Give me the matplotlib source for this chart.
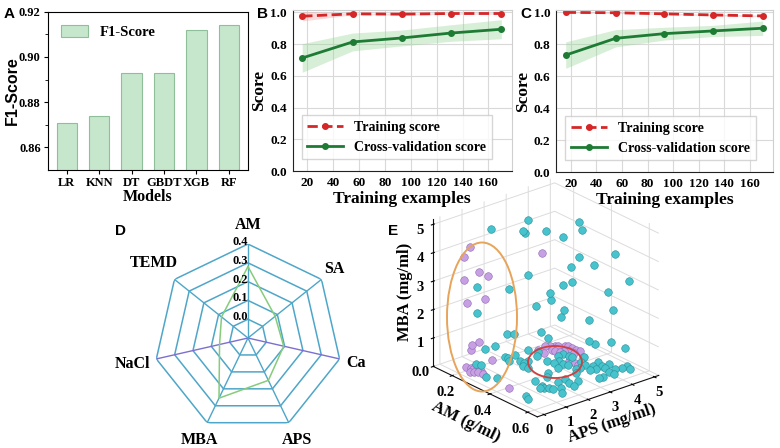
import numpy as np
import matplotlib
matplotlib.use('Agg')
import matplotlib.pyplot as plt
from matplotlib.patches import Ellipse

SERIF = 'Liberation Serif'
SANS = 'Liberation Sans'

# ---------- A: F1 score per model ----------
models = ['LR', 'KNN', 'DT', 'GBDT', 'XGB', 'RF']
f1 = [0.871, 0.874, 0.893, 0.893, 0.912, 0.914]

# ---------- B / C: learning curves ----------
train_sizes = [16, 55, 93, 131, 170]
b_train = [0.975, 0.990, 0.988, 0.992, 0.992]
b_train_sd = [0.030, 0.006, 0.006, 0.005, 0.005]
b_cv = [0.712, 0.813, 0.838, 0.869, 0.893]
b_cv_sd = [0.090, 0.056, 0.050, 0.052, 0.060]
c_train = [0.999, 0.997, 0.990, 0.983, 0.977]
c_train_sd = [0.003, 0.004, 0.005, 0.005, 0.005]
c_cv = [0.732, 0.837, 0.866, 0.883, 0.900]
c_cv_sd = [0.083, 0.054, 0.040, 0.035, 0.045]

# ---------- D: feature importance ----------
features = ['AM', 'SA', 'Ca', 'APS', 'MBA', 'NaCl', 'TEMD']
importance = [0.28, 0.085, 0.095, 0.15, 0.255, 0.055, 0.08]

# ---------- E: samples (AM g/ml, APS mg/ml, MBA mg/ml) ----------
cyan_am = [0.35,0.252,0.336,0.341,0.375,0.35,0.215,0.299,0.375,0.375,0.215,0.372,0.294,0.313,0.375,
           0.44,0.448,0.397,0.535,0.44,0.417,0.479,0.42,0.397,0.571,0.515,0.4,0.392,0.529,0.465,0.465,
           0.482,0.524,0.56,0.375,0.15,0.151,0.24,0.254,0.25,0.245,0.303,0.324,0.319,0.341,0.36,0.28,
           0.305,0.439,0.464,0.464,0.506,0.515,0.524,0.536,0.552,0.514,0.511,0.547,0.577,0.553,0.501,
           0.562,0.598,0.538,0.563,0.468,0.491,0.476,0.513,0.511,0.519,0.533,0.513,0.561,0.569,0.567,
           0.594,0.582,0.58,0.567,0.586,0.328,0.359,0.224,0.242,0.352,0.35,0.376,0.39,0.388,0.411,0.43,
           0.426,0.476,0.418,0.438,0.473,0.383,0.362,0.277]
cyan_aps = [1.85,1,1.73,1.77,2.45,1.85,0.69,1.41,2.64,2.69,0.69,2.04,1.36,1.53,2.21,3.39,3.46,3.03,
            4.21,3.39,3.2,3.73,3.22,3.03,4.52,4.04,3.05,2.98,4.16,3.61,3.61,3.75,4.11,4.43,2.55,1.63,
            2.06,1.73,1.75,2.12,2.75,1.91,1.88,2.11,1.68,1.76,2.88,2.62,2,1.74,1.2,1.13,0.96,1.07,1.21,
            1.27,1.78,2.15,2.03,1.97,2.37,2.72,1.52,1.26,0.13,0.02,3.44,3.57,3.95,3.82,3.26,3.48,3.79,
            4.11,3.99,4.21,4.47,4.38,3.27,3.1,3.64,3.72,0.15,0.37,0.57,0.65,3.18,3.43,3.46,3.48,2.92,
            2.91,2.99,2.54,3.12,3.82,3.5,2.95,2.72,2.61,1.61]
cyan_mba = [5.4,4.98,4.98,4.91,4.91,3.44,2.92,2.92,2.69,2.44,1.99,2.39,1.33,1.34,1.42,5.21,4.94,4.63,
            4.15,3.97,3.61,3.73,3.06,2.94,3.25,2.79,2.08,1.8,2.18,1.78,1.03,0.94,1.07,0.89,1.13,
            0.25,0.25,0.25,0.25,0.25,0.25,0.25,0.25,0.25,0.25,0.25,0.25,0.25,0.25,0.25,0.25,0.25,
            0.25,0.25,0.25,0.25,0.25,0.25,0.25,0.25,0.25,0.25,0.25,0.25,0.25,0.25,0.25,0.25,0.25,
            0.25,0.25,0.25,0.25,0.25,0.25,0.25,0.25,0.25,0.25,0.25,0.25,0.25,0.25,0.25,0.25,0.25,
            0.25,0.25,0.25,0.25,0.25,0.25,0.25,0.25,0.25,0.25,0.25,0.25,0.25,0.25,0.25]
purple_am = [0.16,0.15,0.26,0.17,0.19,0.15,0.15,0.18,0.17,0.16,0.16,0.23,0.22,0.24,0.25,0.27,0.28,
             0.26,0.27,0.28,0.3,0.24,0.45,0.26,0.27,0.28,0.29,0.3,0.31,0.33,0.35,0.37,0.37,0.34,0.33,
             0.33,0.31,0.3,0.3,0.27,0.45,0.43,0.41,0.41]
purple_aps = [0.85,0.65,3.25,1.15,1.42,0.68,0.78,1.35,1.15,0.95,0.88,1.25,0.17,0.2,0.22,0.27,0.3,
              -0.01,0.11,0.19,0.24,0.31,0.15,3.37,3.54,3.68,3.73,3.93,3.98,4.03,4.0,4.03,3.77,3.77,
              3.64,3.47,3.41,3.36,3.02,3.0,3.24,3.27,3.82,3.19]
purple_mba = [4.09,3.76,3.56,3.16,3.03,2.93,2.09,2.21,0.71,0.63,0.46,0.25,0.25,0.25,0.25,0.25,0.25,
              0.25,0.25,0.25,0.25,0.25,0.25,0.25,0.25,0.25,0.25,0.25,0.25,0.25,0.25,0.25,0.25,0.25,
              0.25,0.25,0.25,0.25,0.25,0.25,0.25,0.25,0.25,0.25]

fig = plt.figure(figsize=(7.8, 4.48), dpi=100)

def style_ticks(ax, size):
    for lab in ax.get_xticklabels() + ax.get_yticklabels():
        lab.set_fontfamily(SERIF)
        lab.set_fontweight('bold')
        lab.set_fontsize(size)

# ---- A
ax = fig.add_axes([0.061, 0.6205, 0.257, 0.3535])
ax.bar(models, f1, width=0.63, color='#c6e7cc', edgecolor='#8fbf98', linewidth=0.8, label='F1-Score')
ax.set_ylim(0.85, 0.92)
ax.set_yticks([0.86, 0.88, 0.90, 0.92])
ax.set_yticks([0.87, 0.89, 0.91], minor=True)
style_ticks(ax, 9)
ax.set_xlabel('Models', fontfamily=SERIF, fontweight='bold', fontsize=11.5, labelpad=0)
ax.set_ylabel('F1-Score', fontfamily=SANS, fontweight='bold', fontsize=11.5)
ax.yaxis.set_label_coords(-0.14, 0.5)
ax.tick_params(direction='out', length=3, pad=2)
ax.legend(loc='upper left', frameon=False, prop={'family': SERIF, 'weight': 'bold', 'size': 10.5},
          handlelength=1.9, handleheight=0.9, borderaxespad=0.5)
fig.text(0.005, 0.968, 'A', fontfamily=SANS, fontweight='bold', fontsize=11, va='center')

# ---- B, C
def learning(rect, tr, trsd, cv, cvsd, label, lx):
    ax = fig.add_axes(rect)
    ax.set_zorder(2)
    x = np.array(train_sizes)
    tr = np.array(tr); trsd = np.array(trsd); cv = np.array(cv); cvsd = np.array(cvsd)
    ax.fill_between(x, tr - trsd, tr + trsd, color='#f19a9a', alpha=0.35, lw=0)
    ax.fill_between(x, cv - cvsd, cv + cvsd, color='#8fd18f', alpha=0.35, lw=0)
    ax.plot(x, tr, '--o', color='#d62728', lw=2, ms=4, label='Training score')
    ax.plot(x, cv, '-o', color='#1e7b34', lw=2, ms=4, label='Cross-validation score')
    ax.set_xlim(8.5, 178)
    ax.set_ylim(0, 1.015)
    ax.set_xticks(range(20, 161, 20))
    ax.set_yticks(np.arange(0, 1.01, 0.2))
    ax.grid(color='#d9d9d9', lw=0.8)
    ax.set_axisbelow(True)
    for sp in ['top', 'right']:
        ax.spines[sp].set_color('#cfcfcf')
    for sp in ['left', 'bottom']:
        ax.spines[sp].set_color('#222222')
    ax.tick_params(length=0, pad=4)
    style_ticks(ax, 9.5)
    ax.set_xlabel('Training examples', fontfamily=SERIF, fontweight='bold', fontsize=12.5, labelpad=2)
    ax.set_ylabel('Score', fontfamily=SERIF, fontweight='bold', fontsize=12.5, labelpad=2)
    leg = ax.legend(loc='lower left', bbox_to_anchor=(0.01, 0.03), fancybox=False,
                    prop={'family': SERIF, 'weight': 'bold', 'size': 10}, handlelength=2.6,
                    borderpad=0.4, labelspacing=0.5)
    leg.get_frame().set_edgecolor('#cccccc')
    fig.text(lx, 0.968, label, fontfamily=SANS, fontweight='bold', fontsize=11, va='center')

learning([0.375, 0.618, 0.281, 0.36], b_train, b_train_sd, b_cv, b_cv_sd, 'B', 0.329)
learning([0.713, 0.616, 0.278, 0.362], c_train, c_train_sd, c_cv, c_cv_sd, 'C', 0.667)

# ---- D: radar
axd = fig.add_axes([0.1974, 0.0357, 0.241, 0.4196], projection='polar')
axd.set_theta_zero_location('N')
axd.set_theta_direction(-1)
axd.set_ylim(-0.1, 0.4)
axd.axis('off')
ang = np.arange(len(features)) * 2 * np.pi / len(features)
ring_col = '#4ea6c9'
for r in [0.0, 0.1, 0.2, 0.3, 0.4]:
    axd.plot(np.r_[ang, ang[0]], [r] * (len(ang) + 1), color=ring_col, lw=1.1)
for i, a in enumerate(ang):
    c = '#7b6fd0' if features[i] in ('Ca', 'NaCl') else ring_col
    axd.plot([a, a], [-0.1, 0.4], color=c, lw=1.0)
axd.plot(np.r_[ang, ang[0]], importance + importance[:1], color='#86cc7a', lw=1.1)
lab_r = [0.50, 0.49, 0.49, 0.50, 0.50, 0.53, 0.54]
for a, name, rr in zip(ang, features, lab_r):
    axd.text(a, rr, name, ha='center', va='center', fontfamily=SERIF, fontweight='bold', fontsize=11.5)
for r in [0.0, 0.1, 0.2, 0.3, 0.4]:
    axd.annotate(f'{r:.1f}', xy=(0, r), xytext=(0, 1.5), textcoords='offset points',
                 ha='right', va='center', fontfamily=SERIF, fontweight='bold', fontsize=9)
fig.text(0.148, 0.484, 'D', fontfamily=SANS, fontweight='bold', fontsize=11, va='center')

# ---- E: 3D scatter
axe = fig.add_axes([0.526, 0.07, 0.34, 0.52], projection='3d', proj_type='ortho')
axe.set_zorder(1)
axe.set_facecolor((1, 1, 1, 0))
axe.view_init(elev=24, azim=-40)
axe.set_box_aspect((1, 0.98, 1.0), zoom=1.16)
axe.scatter(cyan_am, cyan_aps, cyan_mba, s=30, color='#46c3cc', edgecolor='#2a8e98',
            linewidth=0.4, depthshade=False, alpha=1)
axe.scatter(purple_am, purple_aps, purple_mba, s=30, color='#c7a0e4', edgecolor='#9069b5',
            linewidth=0.4, depthshade=False, alpha=1)
axe.set_xlim(0.1, 0.65)
axe.set_ylim(-0.3, 5.2)
axe.set_zlim(0, 5.2)
axe.set_xticks([0.2, 0.4, 0.6])
axe.set_yticks(range(6))
axe.set_zticks(range(6))
axe.set_zticklabels(['0.0', '1', '2', '3', '4', '5'])
axe.zaxis.set_ticks_position('lower')
axe.zaxis.set_label_position('lower')
for a in (axe.xaxis, axe.yaxis, axe.zaxis):
    a.set_pane_color((1, 1, 1, 1))
    a._axinfo['grid']['color'] = '#dcdcdc'
    a._axinfo['grid']['linewidth'] = 0.7
    a.line.set_color('#111111')
for lab in axe.get_xticklabels() + axe.get_yticklabels() + axe.get_zticklabels():
    lab.set_fontfamily(SERIF)
    lab.set_fontweight('bold')
    lab.set_fontsize(10.5)
axe.tick_params(axis='x', pad=-3)
axe.tick_params(axis='y', pad=-4)
axe.tick_params(axis='z', pad=-3)
kw = dict(fontfamily=SERIF, fontweight='bold', fontsize=12)
axe.set_xlabel('AM (g/ml)', labelpad=-7, **kw)
axe.set_ylabel('APS (mg/ml)', labelpad=-9, **kw)
axe.set_zlabel('MBA (mg/ml)', labelpad=-10, **kw)
fig.text(0.497, 0.484, 'E', fontfamily=SANS, fontweight='bold', fontsize=11, va='center')
fig.add_artist(Ellipse((482 / 780, 1 - 317 / 448), 70 / 780, 149 / 448, fill=False, ec='#e7a45a',
                       lw=1.4, transform=fig.transFigure, zorder=10))
fig.add_artist(Ellipse((555 / 780, 1 - 362 / 448), 54 / 780, 32 / 448, fill=False, ec='#cf3f3f',
                       lw=1.3, transform=fig.transFigure, zorder=10))

fig.savefig('out.png', dpi=100)
